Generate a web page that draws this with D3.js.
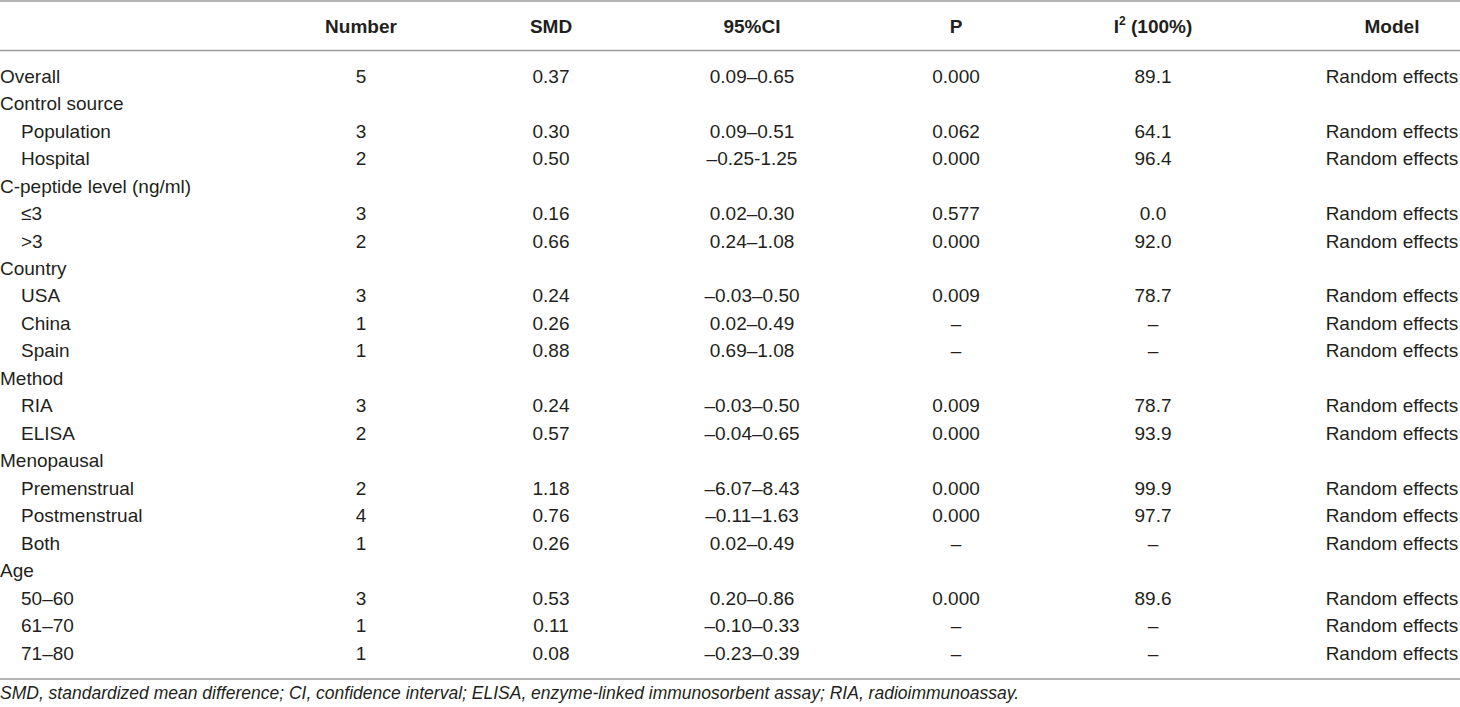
<!DOCTYPE html>
<html>
<head>
<meta charset="utf-8">
<script src="https://cdn.jsdelivr.net/npm/d3@7"></script>
<style>
  html, body { margin: 0; padding: 0; background: #fff; }
  svg text { font-family: "Liberation Sans", Arial, Helvetica, sans-serif; fill: #231f20; }
</style>
</head>
<body>
<div id="table"></div>
<script>
// Table content
const headers = ["", "Number", "SMD", "95%CI", "P", "I2 (100%)", "Model"];

const rowLabels = ["Overall", "Control source", "Population", "Hospital", "C-peptide level (ng/ml)",
  "≤3", ">3", "Country", "USA", "China", "Spain", "Method", "RIA", "ELISA", "Menopausal",
  "Premenstrual", "Postmenstrual", "Both", "Age", "50–60", "61–70", "71–80"];
const subRow = [0, 0, 1, 1, 0, 1, 1, 0, 1, 1, 1, 0, 1, 1, 0, 1, 1, 1, 0, 1, 1, 1];

const numbers = ["5", "", "3", "2", "", "3", "2", "", "3", "1", "1", "", "3", "2", "", "2", "4", "1", "", "3", "1", "1"];
const smd = ["0.37", "", "0.30", "0.50", "", "0.16", "0.66", "", "0.24", "0.26", "0.88", "", "0.24", "0.57", "",
  "1.18", "0.76", "0.26", "", "0.53", "0.11", "0.08"];
const ci = ["0.09–0.65", "", "0.09–0.51", "–0.25-1.25", "", "0.02–0.30", "0.24–1.08", "", "–0.03–0.50",
  "0.02–0.49", "0.69–1.08", "", "–0.03–0.50", "–0.04–0.65", "", "–6.07–8.43", "–0.11–1.63", "0.02–0.49",
  "", "0.20–0.86", "–0.10–0.33", "–0.23–0.39"];
const pValues = ["0.000", "", "0.062", "0.000", "", "0.577", "0.000", "", "0.009", "–", "–", "", "0.009",
  "0.000", "", "0.000", "0.000", "–", "", "0.000", "–", "–"];
const i2 = ["89.1", "", "64.1", "96.4", "", "0.0", "92.0", "", "78.7", "–", "–", "", "78.7", "93.9", "",
  "99.9", "97.7", "–", "", "89.6", "–", "–"];
const models = rowLabels.map((d, i) => subRow[i] || i === 0 ? "Random effects" : "");

const footnote = "SMD, standardized mean difference; CI, confidence interval; ELISA, enzyme-linked immunosorbent assay; RIA, radioimmunoassay.";

const width = 1460, height = 707;
const fontSize = 19;

const svg = d3.select("#table").append("svg")
    .attr("width", width)
    .attr("height", height);

// Row positions
const y = d3.scalePoint()
    .domain(d3.range(rowLabels.length))
    .range([76, 653]);

// Column centres
const colX = d3.scaleOrdinal()
    .domain(headers)
    .range([0, 361, 551, 752, 956, 1153, 1392]);

// Rules
const ruleColor = "#9a9a9a";
[1, 50.5, 679].forEach(yy => {
    svg.append("line")
        .attr("x1", 0).attr("x2", width)
        .attr("y1", yy).attr("y2", yy)
        .attr("stroke", ruleColor)
        .attr("stroke-width", 1.5);
});

// Header
const head = svg.append("g").attr("font-weight", "bold").attr("font-size", fontSize);
headers.slice(1).forEach(h => {
    const t = head.append("text")
        .attr("x", colX(h))
        .attr("y", 26)
        .attr("dy", "0.35em")
        .attr("text-anchor", "middle");
    if (h === "I2 (100%)") {
        t.append("tspan").text("I");
        t.append("tspan").attr("font-size", 12).attr("dy", "-0.6em").text("2");
        t.append("tspan").attr("dy", "0.4em").text(" (100%)");
    } else {
        t.text(h);
    }
});

// Body
const body = svg.append("g").attr("font-size", fontSize);
const rows = body.selectAll("g.row")
    .data(rowLabels)
    .join("g")
    .attr("class", "row")
    .attr("transform", (d, i) => `translate(0,${y(i)})`);

rows.append("text")
    .attr("x", (d, i) => subRow[i] ? 21 : 0)
    .attr("dy", "0.35em")
    .text(d => d);

const cols = [
    { key: "Number", vals: numbers },
    { key: "SMD", vals: smd },
    { key: "95%CI", vals: ci },
    { key: "P", vals: pValues },
    { key: "I2 (100%)", vals: i2 },
    { key: "Model", vals: models }
];
cols.forEach(c => {
    rows.append("text")
        .attr("x", colX(c.key))
        .attr("dy", "0.35em")
        .attr("text-anchor", "middle")
        .text((d, i) => c.vals[i]);
});

// Footnote
svg.append("text")
    .attr("x", 0)
    .attr("y", 693)
    .attr("dy", "0.35em")
    .attr("font-size", 17.5)
    .attr("font-style", "italic")
    .text(footnote);
</script>
</body>
</html>
